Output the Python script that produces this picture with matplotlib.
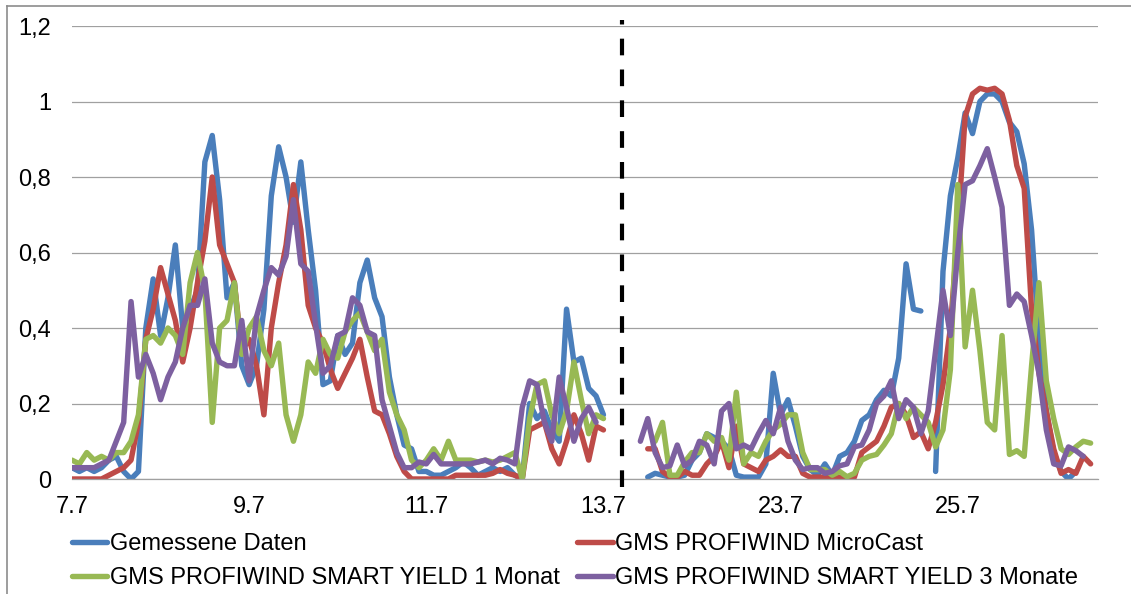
import numpy as np
import matplotlib
matplotlib.use("Agg")
import matplotlib.pyplot as plt
from matplotlib.lines import Line2D
from matplotlib.ticker import FuncFormatter

nan = float("nan")

# two-hourly values, first block 7.7 - 13.7, second block 22.7 - 28.7
tick_labels = ["7.7", "9.7", "11.7", "13.7", "23.7", "25.7"]
tick_step = 24
gap_len = 4

names = [
    "Gemessene Daten",
    "GMS PROFIWIND MicroCast",
    "GMS PROFIWIND SMART YIELD 1 Monat",
    "GMS PROFIWIND SMART YIELD 3 Monate",
]
colors = ["#4A7EBB", "#BE4B48", "#98B954", "#7D60A0"]

measured_a = [
    0.03, 0.02, 0.03, 0.02, 0.03, 0.05, 0.06, 0.02, 0.0, 0.02,
    0.40, 0.53, 0.38, 0.48, 0.62, 0.40, 0.45, 0.50, 0.84, 0.91,
    0.74, 0.48, 0.52, 0.30, 0.25, 0.30, 0.45, 0.75, 0.88, 0.80,
    0.68, 0.84, 0.66, 0.50, 0.25, 0.26, 0.38, 0.33, 0.36, 0.52,
    0.58, 0.48, 0.43, 0.27, 0.17, 0.09, 0.08, 0.02, 0.02, 0.01,
    0.01, 0.02, 0.03, 0.045, 0.03, 0.01, 0.02, 0.03, 0.02, 0.03,
    0.01, 0.0, 0.20, 0.16, 0.18, 0.13, 0.10, 0.45, 0.31, 0.32,
    0.24, 0.22, 0.17,
]
measured_b = [
    nan, 0.005, 0.015, 0.01, 0.005, 0.005, 0.01, 0.05, 0.07, 0.12,
    0.11, 0.10, 0.08, 0.01, 0.005, 0.005, 0.005, 0.04, 0.28, 0.17,
    0.21, 0.14, 0.06, 0.025, 0.01, 0.04, 0.01, 0.06, 0.07, 0.10,
    0.155, 0.17, 0.21, 0.235, 0.22, 0.32, 0.57, 0.45, 0.445, nan,
    0.02, 0.55, 0.75, 0.85, 0.97, 0.915, 1.0, 1.02, 1.02, 1.0,
    0.945, 0.92, 0.835, 0.66, 0.37, 0.18, 0.07, 0.02, 0.0, 0.02,
    nan, nan,
]

microcast_a = [
    0.0, 0.0, 0.0, 0.0, 0.0, 0.01, 0.02, 0.03, 0.05, 0.15,
    0.37, 0.45, 0.56, 0.49, 0.42, 0.31, 0.40, 0.52, 0.63, 0.80,
    0.62, 0.57, 0.52, 0.34, 0.37, 0.30, 0.17, 0.40, 0.52, 0.62,
    0.78, 0.66, 0.46, 0.40, 0.36, 0.29, 0.24, 0.28, 0.32, 0.37,
    0.27, 0.18, 0.17, 0.12, 0.06, 0.02, 0.0, 0.0, 0.0, 0.0,
    0.0, 0.0, 0.01, 0.01, 0.01, 0.01, 0.01, 0.015, 0.025, 0.015,
    0.01, 0.0, 0.13, 0.14, 0.15, 0.08, 0.04, 0.10, 0.17, 0.12,
    0.05, 0.14, 0.13,
]
microcast_b = [
    nan, 0.08, 0.08, 0.02, 0.005, 0.005, 0.02, 0.01, 0.01, 0.04,
    0.06, 0.10, 0.03, 0.14, 0.04, 0.03, 0.02, 0.05, 0.06, 0.077,
    0.06, 0.06, 0.015, 0.005, 0.005, 0.005, 0.005, 0.005, 0.005, 0.005,
    0.07, 0.085, 0.10, 0.14, 0.19, 0.20, 0.17, 0.11, 0.125, 0.08,
    0.15, 0.25, 0.40, 0.66, 0.96, 1.02, 1.035, 1.03, 1.035, 1.02,
    0.95, 0.83, 0.77, 0.45, 0.28, 0.18, 0.08, 0.015, 0.025, 0.015,
    0.06, 0.04,
]

yield1_a = [
    0.05, 0.04, 0.07, 0.05, 0.06, 0.05, 0.07, 0.07, 0.10, 0.17,
    0.37, 0.38, 0.36, 0.40, 0.38, 0.33, 0.52, 0.60, 0.50, 0.15,
    0.40, 0.42, 0.52, 0.33, 0.40, 0.43, 0.34, 0.30, 0.36, 0.17,
    0.10, 0.17, 0.31, 0.28, 0.37, 0.33, 0.32, 0.39, 0.42, 0.44,
    0.39, 0.34, 0.37, 0.23, 0.17, 0.13, 0.05, 0.03, 0.05, 0.08,
    0.05, 0.10, 0.05, 0.05, 0.05, 0.045, 0.05, 0.045, 0.05, 0.06,
    0.07, 0.0, 0.16, 0.25, 0.26, 0.17, 0.12, 0.18, 0.31, 0.21,
    0.12, 0.17, 0.16,
]
yield1_b = [
    nan, nan, 0.10, 0.15, 0.01, 0.01, 0.045, 0.07, 0.07, 0.12,
    0.10, 0.11, 0.05, 0.23, 0.04, 0.07, 0.06, 0.10, 0.13, 0.145,
    0.17, 0.17, 0.07, 0.025, 0.025, 0.025, 0.01, 0.02, 0.006, 0.015,
    0.05, 0.06, 0.065, 0.09, 0.12, 0.20, 0.16, 0.19, 0.17, 0.15,
    0.085, 0.13, 0.29, 0.78, 0.35, 0.50, 0.34, 0.15, 0.13, 0.38,
    0.065, 0.075, 0.06, 0.30, 0.52, 0.26, 0.16, 0.08, 0.065, 0.085,
    0.10, 0.095,
]

yield3_a = [
    0.03, 0.03, 0.03, 0.03, 0.04, 0.05, 0.10, 0.15, 0.47, 0.27,
    0.33, 0.28, 0.21, 0.27, 0.31, 0.40, 0.46, 0.46, 0.53, 0.36,
    0.31, 0.30, 0.30, 0.42, 0.26, 0.43, 0.50, 0.56, 0.54, 0.59,
    0.74, 0.57, 0.55, 0.41, 0.28, 0.30, 0.38, 0.39, 0.48, 0.46,
    0.39, 0.38, 0.21, 0.14, 0.07, 0.03, 0.03, 0.045, 0.04, 0.065,
    0.04, 0.04, 0.04, 0.04, 0.04, 0.045, 0.05, 0.04, 0.055, 0.05,
    0.04, 0.19, 0.26, 0.25, 0.15, 0.10, 0.27, 0.19, 0.10, 0.16,
    0.19, 0.15, nan,
]
yield3_b = [
    0.10, 0.16, 0.07, 0.03, 0.035, 0.09, 0.035, 0.05, 0.10, 0.09,
    0.04, 0.18, 0.20, 0.08, 0.09, 0.08, 0.12, 0.155, 0.12, 0.19,
    0.10, 0.05, 0.025, 0.03, 0.03, 0.015, 0.02, 0.035, 0.04, 0.085,
    0.09, 0.13, 0.20, 0.22, 0.26, 0.16, 0.21, 0.19, 0.12, 0.18,
    0.34, 0.50, 0.38, 0.60, 0.78, 0.79, 0.83, 0.875, 0.80, 0.72,
    0.46, 0.49, 0.47, 0.38, 0.28, 0.13, 0.04, 0.035, 0.085, 0.075,
    0.06, nan,
]

blocks = [
    (measured_a, measured_b),
    (microcast_a, microcast_b),
    (yield1_a, yield1_b),
    (yield3_a, yield3_b),
]

plt.rcParams["font.family"] = ["Liberation Sans", "DejaVu Sans"]
plt.rcParams["font.size"] = 17

fig = plt.figure(figsize=(11.31, 5.94), dpi=100)
ax = fig.add_axes([72 / 1131, 1 - 479 / 594, 1026 / 1131, 453 / 594])

lines = []
for (a, b), name, col in zip(blocks, names, colors):
    y = np.concatenate([a, [nan] * gap_len, b])
    x = np.arange(len(y))
    (ln,) = ax.plot(x, y, color=col, lw=3.9, label=name,
                    solid_capstyle="round", solid_joinstyle="round")
    lines.append(ln)

n_total = len(measured_a) + gap_len + len(measured_b)
sep = (len(measured_a) - 1 + len(measured_a) + gap_len) / 2
ax.plot([sep, sep], [-0.02, 1.215], color="black", lw=3.0,
        linestyle=(0, (4.0, 3.4)), clip_on=False, zorder=5)

ax.set_xlim(0, n_total)
ax.set_ylim(0, 1.2)
ax.set_yticks(np.arange(0, 1.21, 0.2))
ax.yaxis.set_major_formatter(FuncFormatter(lambda v, p: f"{v:.1f}".rstrip("0").rstrip(".").replace(".", ",")))
ax.set_xticks(np.arange(len(tick_labels)) * tick_step)
ax.set_xticklabels(tick_labels)
ax.tick_params(axis="both", length=0, labelsize=17)
ax.tick_params(axis="y", pad=15)
ax.tick_params(axis="x", pad=12)

ax.grid(axis="y", color="#A0A0A0", lw=0.9)
ax.set_axisbelow(True)
for s in ["top", "right", "left"]:
    ax.spines[s].set_visible(False)
ax.spines["bottom"].set_color("#A0A0A0")
ax.spines["bottom"].set_linewidth(0.9)

order = [0, 2, 1, 3]
fig.legend([lines[i] for i in order], [names[i] for i in order],
           loc="upper left", bbox_to_anchor=(72 / 1131, 1 - 533 / 594),
           ncol=2, frameon=False, fontsize=17, borderpad=0, borderaxespad=0,
           handlelength=1.5, handletextpad=0.1, columnspacing=0.75,
           labelspacing=0.5)

# outer chart border (only top and left edges are inside the image)
fig.add_artist(Line2D([7 / 1131, 1], [1 - 6 / 594, 1 - 6 / 594],
                      color="#8C8C8C", lw=1.2))
fig.add_artist(Line2D([7 / 1131, 7 / 1131], [0, 1 - 6 / 594],
                      color="#8C8C8C", lw=1.2))

fig.savefig("out.png", dpi=100)
